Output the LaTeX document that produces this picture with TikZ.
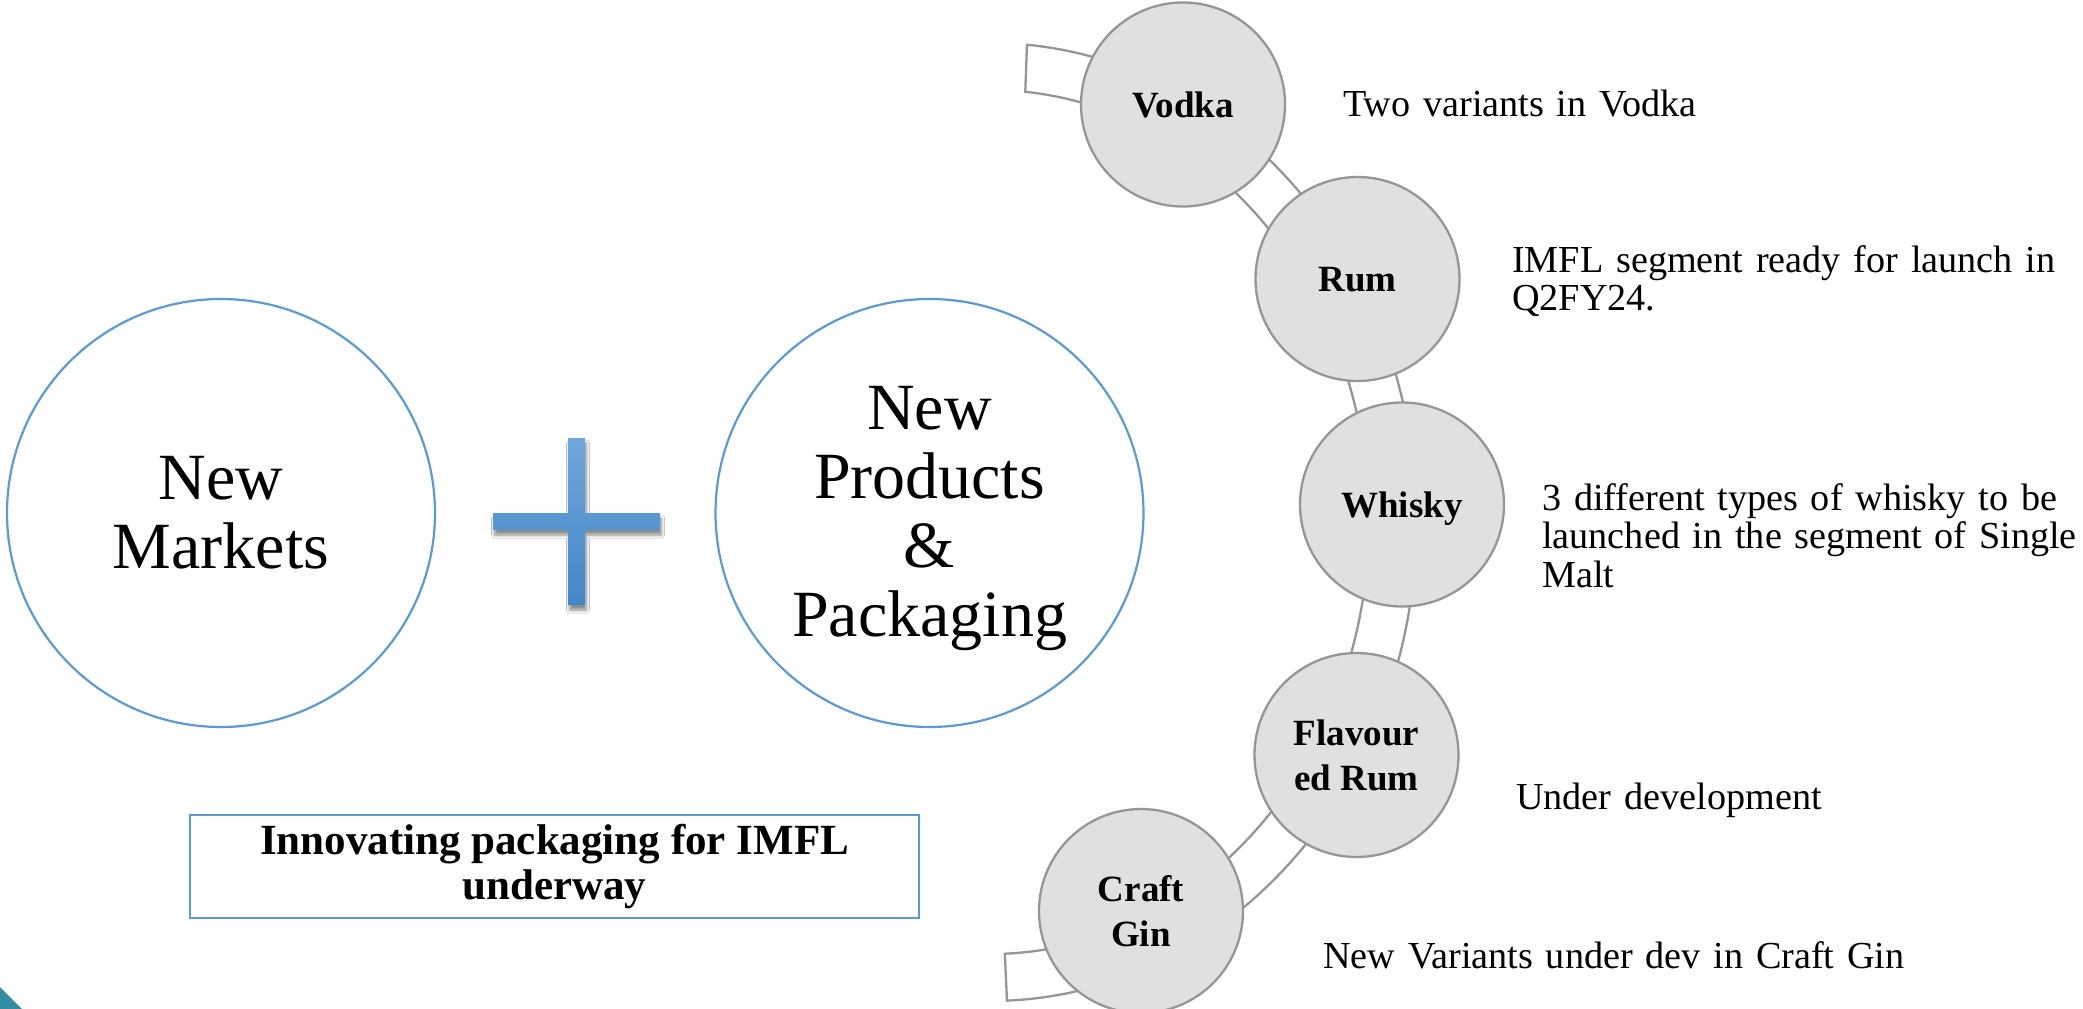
\documentclass[tikz,border=0pt]{standalone}
\usepackage{fontspec}
\setmainfont{Liberation Serif}
\usetikzlibrary{shadows.blur}

\definecolor{ringblue}{RGB}{91,155,213}
\definecolor{bubblefill}{RGB}{224,224,224}
\definecolor{bubbleline}{RGB}{150,150,150}
\definecolor{plustop}{RGB}{112,166,220}
\definecolor{plusbot}{RGB}{66,135,200}
\definecolor{cornerteal}{RGB}{52,140,162}

\begin{document}
\begin{tikzpicture}[x=1pt,y=-1pt,
  bigring/.style={circle, draw=ringblue, line width=2.2pt, minimum size=428pt, inner sep=0pt},
  bigtext/.style={font=\fontsize{66}{69}\selectfont, align=center, inner sep=0pt},
  bubble/.style={circle, draw=bubbleline, fill=bubblefill, line width=2.3pt,
    minimum size=204pt, inner sep=0pt, align=center,
    font=\bfseries\fontsize{37}{45}\selectfont},
  oneline/.style={text depth=0pt},
  note/.style={anchor=base west, inner sep=0pt, align=left, text width=600pt,
    font=\fontsize{38.2}{38.5}\selectfont},
  band/.style={draw=bubbleline, fill=white, line width=2.3pt},
  callout/.style={draw=ringblue, line width=1.8pt, minimum width=729pt,
    minimum height=103pt, inner sep=0pt, align=center,
    font=\bfseries\fontsize{43}{45}\selectfont},
]
\useasboundingbox (0,0) rectangle (2083,1009);
\fill[white] (0,0) rectangle (2083,1009);

% corner accent
\fill[cornerteal] (0,987) -- (22,1009) -- (0,1009) -- cycle;

% two theme circles joined by a plus sign
\node[bigring, label={[bigtext]center:{New\\Markets}}] (markets) at (221,513) {};
\node[bigring, label={[bigtext,yshift=-6pt]center:{New\\Products\\\&\\Packaging}}] (products) at (929.5,513) {};

\path[blur shadow={shadow xshift=1.5pt, shadow yshift=-5pt, shadow blur radius=3pt,
    shadow blur steps=8, shadow opacity=45},
  top color=plustop, bottom color=plusbot]
  (568,438) -- (585,438) -- (585,513) -- (660,513) -- (660,530) -- (585,530)
  -- (585,605) -- (568,605) -- (568,530) -- (493,530) -- (493,513) -- (568,513) -- cycle;

% callout box
\node[callout] (pack) at (554.5,866.5) {Innovating packaging for IMFL\\underway};

% curved band carrying the product bubbles
\draw[band]
  plot[domain=-85.15:87.85, samples=160, variable=\t] ({991+425.5*cos(\t)},{522+479*sin(\t)})
  -- plot[domain=87.9:-84.8, samples=160, variable=\t] ({991+378*cos(\t)},{522+432*sin(\t)})
  -- cycle;

% product bubbles
\node[bubble, oneline] (vodka)  at (1183,104.5) {Vodka};
\node[bubble, oneline] (rum)    at (1357.5,279) {Rum};
\node[bubble, oneline] (whisky) at (1402,504.5) {Whisky};
\node[bubble] (flavrum) at (1356.5,755) {Flavour\\ed Rum};
\node[bubble] (gin)     at (1141,911) {Craft\\Gin};

% descriptions
\node[note] (vodkanote)  at (1343,116) {Two variants in Vodka};
\node[note] (rumnote)    at (1512,272) {IMFL segment ready for launch in\\Q2FY24.};
\node[note] (whiskynote) at (1542,510) {3 different types of whisky to be\\launched in the segment of Single\\Malt};
\node[note] (flavnote)   at (1516,809) {Under development};
\node[note] (ginnote)    at (1323,968) {New Variants under dev in Craft Gin};
\end{tikzpicture}
\end{document}
